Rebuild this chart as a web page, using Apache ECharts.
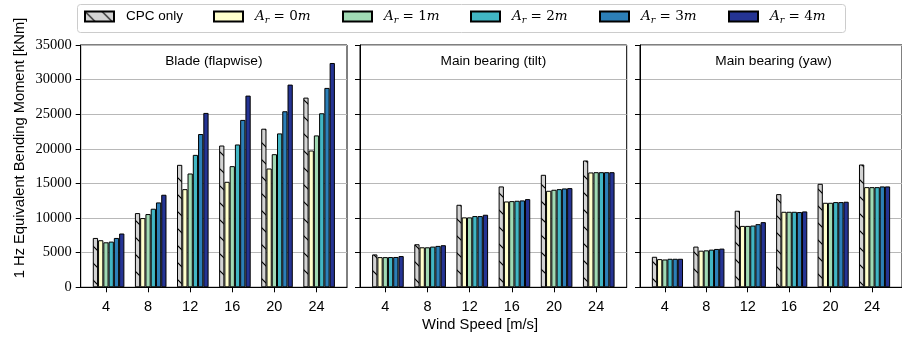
<!DOCTYPE html>
<html>
<head>
<meta charset="utf-8">
<script src="https://cdn.jsdelivr.net/npm/echarts@6.0.0/dist/echarts.min.js"></script>
<style>
html,body{margin:0;padding:0;background:#fff;}
#chart{width:902px;height:337px;}
</style>
</head>
<body>
<div id="chart"></div>
<script>
// ---- data ----
const windSpeeds = [4, 8, 12, 16, 20, 24];
const tickLabels = ['4', '8', '12', '16', '20', '24'];
const seriesNames = ['CPC only', 'A_r = 0m', 'A_r = 1m', 'A_r = 2m', 'A_r = 3m', 'A_r = 4m'];
const panelTitles = ['Blade (flapwise)', 'Main bearing (tilt)', 'Main bearing (yaw)'];

// Blade (flapwise)
const bladeCPC = [7130, 10720, 17690, 20480, 22910, 27400];
const bladeA0  = [6800, 10000, 14180, 15240, 17160, 19760];
const bladeA1  = [6500, 10580, 16440, 17500, 19230, 21940];
const bladeA2  = [6600, 11350, 19130, 20630, 22230, 25140];
const bladeA3  = [7130, 12260, 22140, 24180, 25430, 28800];
const bladeA4  = [7770, 13370, 25190, 27690, 29280, 32400];

// Main bearing (tilt)
const tiltCPC = [4750, 6220, 11920, 14570, 16250, 18320];
const tiltA0  = [4360, 5780, 10100, 12400, 13940, 16590];
const tiltA1  = [4360, 5780, 10100, 12450, 14090, 16630];
const tiltA2  = [4370, 5880, 10290, 12500, 14180, 16630];
const tiltA3  = [4380, 5980, 10290, 12550, 14280, 16630];
const tiltA4  = [4510, 6080, 10480, 12740, 14330, 16630];

// Main bearing (yaw)
const yawCPC = [4410, 5880, 11060, 13460, 14950, 17740];
const yawA0  = [4070, 5290, 8870, 10910, 12210, 14470];
const yawA1  = [4020, 5340, 8870, 10910, 12210, 14470];
const yawA2  = [4120, 5440, 8920, 10910, 12310, 14470];
const yawA3  = [4120, 5540, 9120, 10870, 12310, 14570];
const yawA4  = [4120, 5590, 9410, 10960, 12360, 14570];

const panels = [
  [bladeCPC, bladeA0, bladeA1, bladeA2, bladeA3, bladeA4],
  [tiltCPC, tiltA0, tiltA1, tiltA2, tiltA3, tiltA4],
  [yawCPC, yawA0, yawA1, yawA2, yawA3, yawA4]
];

// ---- styles / layout ----
const colors = ['#d3d3d3', '#ffffcc', '#a1dab4', '#41b6c4', '#2c7fb8', '#253494'];
const gridBoxes = [
  {left: 80.7, top: 45, width: 266.3, height: 242.3},
  {left: 360, top: 45, width: 266.7, height: 242.3},
  {left: 640, top: 45, width: 267, height: 242.3}
];
const legendLefts = [84, 213, 342, 470, 599, 728];
const xMin = 1.6, xMax = 26.9;
const barUnit = 0.5;
const SANS = 'Liberation Sans';
const SERIF = 'Liberation Serif';
const MATH = 'DejaVu Serif';

function makeHatch() {
  const n = 17;
  const c = document.createElement('canvas');
  c.width = n; c.height = n;
  const ctx = c.getContext('2d');
  ctx.fillStyle = colors[0];
  ctx.fillRect(0, 0, n, n);
  ctx.strokeStyle = '#000';
  ctx.lineWidth = 1.2;
  ctx.beginPath();
  ctx.moveTo(-2, -2); ctx.lineTo(n + 2, n + 2);
  ctx.moveTo(-2, n - 2); ctx.lineTo(2, n + 2);
  ctx.moveTo(n - 2, -2); ctx.lineTo(n + 2, 2);
  ctx.stroke();
  return c;
}
const hatch = {image: makeHatch(), repeat: 'repeat'};

const chart = echarts.init(document.getElementById('chart'), null, {renderer: 'canvas'});

const grids = gridBoxes.map(g => Object.assign({
  show: true, borderColor: '#000', borderWidth: 1, backgroundColor: 'transparent', containLabel: false
}, g));

const xAxes = gridBoxes.map((g, p) => ({
  type: 'value', gridIndex: p, min: xMin, max: xMax,
  axisLine: {show: true, lineStyle: {color: '#000', width: 1}},
  axisTick: {show: true, length: 5, lineStyle: {color: '#000'}, customValues: windSpeeds},
  axisLabel: {show: true, customValues: windSpeeds, margin: 12, color: '#000',
    fontFamily: SANS, fontSize: 14.5,
    formatter: v => tickLabels[windSpeeds.indexOf(v)]},
  splitLine: {show: false}
}));

const yAxes = gridBoxes.map((g, p) => ({
  type: 'value', gridIndex: p, min: 0, max: 35000, interval: 5000,
  axisLine: {show: true, lineStyle: {color: '#000', width: 1}},
  axisTick: {show: true, length: 5, lineStyle: {color: '#000'}},
  axisLabel: {show: p === 0, margin: 9, color: '#000', fontFamily: SERIF, fontSize: 14.5,
    formatter: v => String(v)},
  splitLine: {show: true, lineStyle: {color: '#b8b8b8', width: 1}}
}));

const series = [];
panels.forEach((vals, p) => {
  const bw = barUnit * gridBoxes[p].width / (xMax - xMin);
  vals.forEach((arr, s) => {
    series.push({
      type: 'bar', name: seriesNames[s], xAxisIndex: p, yAxisIndex: p,
      barWidth: bw, barGap: '-100%',
      data: windSpeeds.map((w, i) => [w + (s - 2) * barUnit, arr[i]]),
      itemStyle: {color: s === 0 ? hatch : colors[s], borderColor: '#000', borderWidth: 1},
      silent: true, animation: false
    });
  });
});

const graphics = [{
  type: 'rect', z: -1,
  shape: {x: 77.5, y: 4.5, width: 768, height: 28, r: 3},
  style: {fill: '#fff', stroke: '#cccccc', lineWidth: 1}
}];
panelTitles.forEach((t, p) => graphics.push({
  type: 'text',
  x: gridBoxes[p].left + gridBoxes[p].width / 2, y: 61,
  style: {text: t, fontFamily: SANS, fontSize: 13.7, fill: '#000', align: 'center', verticalAlign: 'middle'}
}));
graphics.push({
  type: 'text', x: 20, y: 148, rotation: Math.PI / 2,
  style: {text: '1 Hz Equivalent Bending Moment [kNm]', fontFamily: SANS, fontSize: 14.7, fill: '#000',
    align: 'center', verticalAlign: 'middle'}
});
graphics.push({
  type: 'text', x: 480, y: 325,
  style: {text: 'Wind Speed [m/s]', fontFamily: SANS, fontSize: 14.7, fill: '#000',
    align: 'center', verticalAlign: 'middle'}
});

const legendFormatter = name => {
  if (name.indexOf('A_r') !== 0) return '{s|' + name + '}';
  const d = name.replace('A_r = ', '').replace('m', '');
  return '{i|A}{sub|r}{n| = ' + d + '}{i|m}';
};
const legendRich = {
  s: {fontFamily: SANS, fontSize: 13.5, lineHeight: 18, color: '#000'},
  i: {fontFamily: MATH, fontStyle: 'italic', fontSize: 13.5, lineHeight: 18, color: '#000'},
  n: {fontFamily: MATH, fontSize: 13.5, lineHeight: 18, color: '#000'},
  sub: {fontFamily: MATH, fontStyle: 'italic', fontSize: 9.5, lineHeight: 9, verticalAlign: 'bottom', color: '#000'}
};
const legends = seriesNames.map((name, k) => ({
  left: legendLefts[k], top: 9.5, padding: 0,
  itemWidth: 29, itemHeight: 10, icon: 'rect',
  data: [name], selectedMode: false,
  formatter: legendFormatter,
  textStyle: {color: '#000', padding: [0, 0, 0, 7], rich: legendRich}
}));

chart.setOption({
  animation: false,
  grid: grids,
  xAxis: xAxes,
  yAxis: yAxes,
  legend: legends,
  graphic: graphics,
  series: series
});
</script>
</body>
</html>
